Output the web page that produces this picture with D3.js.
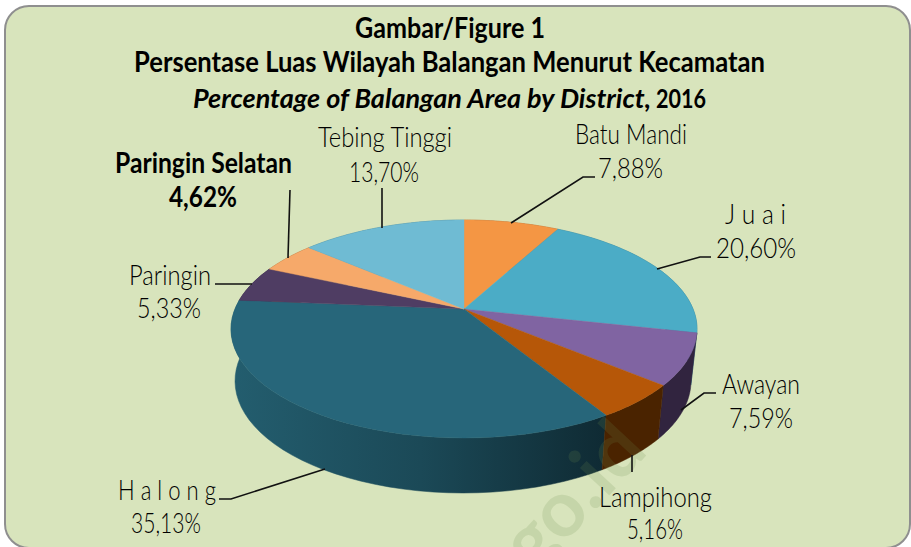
<!DOCTYPE html>
<html>
<head>
<meta charset="utf-8">
<script src="https://cdn.jsdelivr.net/npm/d3@7"></script>
<style>
  html, body { margin: 0; padding: 0; background: #fff; }
  svg { display: block; }
  text { font-family: Lato, "Open Sans", sans-serif; fill: #000; }
</style>
</head>
<body>
<script>
const districts = ["Batu Mandi", "J u a i", "Awayan", "Lampihong", "H a l o n g", "Paringin", "Paringin Selatan", "Tebing Tinggi"];
const shares = [7.88, 20.60, 7.59, 5.16, 35.13, 5.33, 4.62, 13.70];
const topColors = ["#f49644", "#4bacc6", "#8064a2", "#b65708", "#27667a", "#4f3d63", "#f6a96a", "#6fbbd3"];
const sideColors = ["#a8662c", "#2f7a8e", "#31243f", "#4a2300", "url(#halongSide)", "#31243f", "#a8662c", "#3f7f93"];
const boldNames = ["Paringin Selatan"];

// label boxes: [name x0, name x1, name baseline, pct x0, pct x1, pct baseline]
const labelBoxes = [
  [575, 687, 144, 598, 663, 178],
  [725, 786, 224, 716, 796, 258],
  [722, 800, 394, 729, 793, 428],
  [599, 712, 507, 627, 683, 539],
  [118, 216, 500, 131, 201, 533],
  [129, 211, 285, 137, 201, 318],
  [115, 292, 173, 169, 237, 207],
  [318, 452, 147, 349, 419, 182]
];
const leaders = [
  [[511, 223], [583, 177], [595, 177]],
  [[657, 269], [700, 257], [711, 257]],
  [[681, 410], [704, 393], [716, 393]],
  [[632, 455], [632, 472]],
  [[325, 469], [231, 499], [219, 499]],
  [[215, 284], [252, 284]],
  [[290, 190], [288, 258]],
  [[382, 188], [382, 228]]
];

const width = 911, height = 547;
const svg = d3.select("body").append("svg")
  .attr("width", width)
  .attr("height", height);

const grad = svg.append("defs").append("linearGradient")
  .attr("id", "halongSide")
  .attr("gradientUnits", "userSpaceOnUse")
  .attr("x1", 235).attr("x2", 607).attr("y1", 0).attr("y2", 0);
grad.append("stop").attr("offset", "0%").attr("stop-color", "#235d6e");
grad.append("stop").attr("offset", "50%").attr("stop-color", "#1b4957");
grad.append("stop").attr("offset", "100%").attr("stop-color", "#0f2a33");

svg.append("rect")
  .attr("x", 5).attr("y", 6)
  .attr("width", 905).attr("height", 542)
  .attr("rx", 24)
  .attr("fill", "#d8e4bc")
  .attr("stroke", "#8f8f8f")
  .attr("stroke-width", 2);

// the pie is tilted with perspective, so the apex sits above the ellipse centre
const k = -0.183;
function disc(a) {
  const u = Math.sin(a), v = -Math.cos(a), w = 1 + k * v;
  return [u * Math.sqrt(1 - k * k) / w, (v + k) / w];
}
const topX = d3.scaleLinear().domain([-1, 1]).range([231, 697]);
const topY = d3.scaleLinear().domain([-1, 1]).range([220, 438]);
const botX = d3.scaleLinear().domain([-1, 1]).range([235, 691]);
const botY = d3.scaleLinear().domain([-1, 1]).range([269, 493]);

const pie = d3.pie().sort(null).value(d => d)(shares);
const line = d3.line();

function arcPoints(p, sx, sy) {
  const n = 40;
  return d3.range(n + 1).map(i => {
    const q = disc(p.startAngle + (p.endAngle - p.startAngle) * i / n);
    return [sx(q[0]), sy(q[1])];
  });
}

// sides, back to front
const sideOrder = [7, 6, 5, 0, 1, 4, 2, 3];
svg.append("g").selectAll("path")
  .data(sideOrder)
  .enter()
  .append("path")
  .attr("d", i => line(arcPoints(pie[i], topX, topY).concat(arcPoints(pie[i], botX, botY).reverse())) + "Z")
  .attr("fill", i => sideColors[i])
  .attr("stroke", i => sideColors[i])
  .attr("stroke-width", 0.5);

// watermark goes under the top faces, it only shows on the sides
svg.append("text")
  .attr("transform", "translate(535,575) rotate(-47)")
  .attr("font-size", 78)
  .attr("font-weight", 700)
  .style("fill", "#6f8f4f")
  .attr("opacity", 0.17)
  .text("go.id");

// top faces
svg.append("g").selectAll("path")
  .data(pie)
  .enter()
  .append("path")
  .attr("d", p => line([[topX(0), topY(k)]].concat(arcPoints(p, topX, topY))) + "Z")
  .attr("fill", (p, i) => topColors[i])
  .attr("stroke", (p, i) => topColors[i])
  .attr("stroke-width", 0.4);

svg.append("g").selectAll("path")
  .data(leaders)
  .enter()
  .append("path")
  .attr("d", d => line(d))
  .attr("fill", "none")
  .attr("stroke", "#111")
  .attr("stroke-width", 1.6);

function fitted(str, x0, x1, y, size, weight) {
  return svg.append("text")
    .attr("x", x0)
    .attr("y", y)
    .attr("font-size", size)
    .attr("font-weight", weight)
    .attr("textLength", x1 - x0)
    .attr("lengthAdjust", "spacingAndGlyphs")
    .text(str);
}

districts.forEach((name, i) => {
  const b = labelBoxes[i];
  const w = boldNames.includes(name) ? 700 : 300;
  fitted(name, b[0], b[1], b[2], 28, w);
  fitted(shares[i].toFixed(2).replace(".", ",") + "%", b[3], b[4], b[5], 28, w);
});

// titles
fitted("Gambar/Figure 1", 355, 545, 38, 29, 700);
fitted("Persentase Luas Wilayah Balangan Menurut Kecamatan", 134, 765, 72, 28, 700);
fitted("Percentage of Balangan Area by District,", 193, 651, 108, 27, 700).style("font-style", "italic");
fitted("2016", 656, 706, 108, 27, 700);
</script>
</body>
</html>
